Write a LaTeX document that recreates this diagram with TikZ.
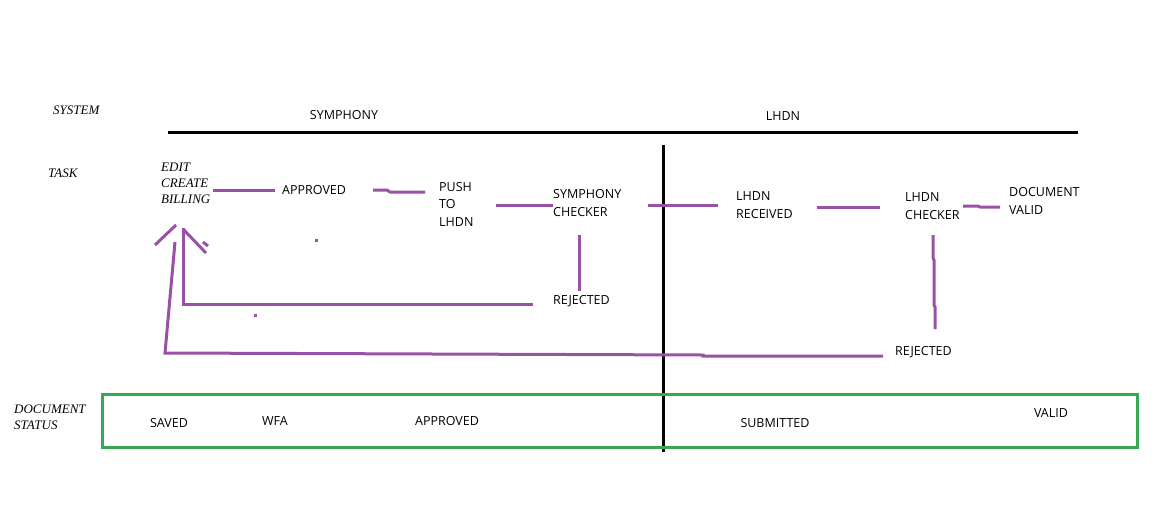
\documentclass[tikz,border=0pt]{standalone}
\usepackage{fontspec}
\setmainfont{Open Sans}
\newfontfamily\hand{Liberation Serif}
\definecolor{pur}{RGB}{152,82,163}
\definecolor{grn}{RGB}{52,168,83}
\begin{document}
\begin{tikzpicture}[x=1pt,y=-1pt,
 lbl/.style={font=\fontsize{12.5}{18}\selectfont, inner sep=0pt, align=left, anchor=west},
 ctr/.style={font=\fontsize{12.5}{18}\selectfont, inner sep=0pt},
 hw/.style={font=\hand\itshape\fontsize{13}{16}\selectfont, inner sep=0pt, align=left, anchor=west},
 pl/.style={draw=pur, line width=3pt},
 bl/.style={draw=black, line width=3pt},
 dot/.style={fill=pur, minimum size=3pt, inner sep=0pt}]
\useasboundingbox (0,0) rectangle (1167,512);
% labels
\node[hw] (sys) at (53,110) {SYSTEM};
\node[hw] (task) at (48,173) {TASK};
\node[hw] (dst) at (14,417) {DOCUMENT\\STATUS};
\node[ctr] (sym) at (344,115) {SYMPHONY};
\node[ctr] (lhdn) at (783,116) {LHDN};
% system lines
\coordinate (hl) at (168,132); \coordinate (hr) at (1078,132);
\draw[bl] (hl) -- (hr);
\coordinate (vt) at (663,145); \coordinate (vb) at (663,452);
\draw[bl] (vt) -- (vb);
% tasks
\node[hw] (edit) at (161,183) {EDIT\\CREATE\\BILLING};
\node[lbl] (appr) at (282,190) {APPROVED};
\node[lbl, font=\fontsize{12.5}{17.5}\selectfont] (push) at (439,204) {PUSH\\TO\\LHDN};
\node[lbl] (schk) at (553,203) {SYMPHONY\\CHECKER};
\node[lbl] (lrec) at (736,205) {LHDN\\RECEIVED};
\node[lbl] (lchk) at (905,206) {LHDN\\CHECKER};
\node[lbl] (dval) at (1009,201) {DOCUMENT\\VALID};
\node[lbl] (rej1) at (553,301) {REJECTED};
\node[lbl] (rej2) at (895,352) {REJECTED};
% connectors
\coordinate (c1a) at (213,190); \coordinate (c1b) at (275,190);
\draw[pl] (c1a) -- (c1b);
\coordinate (c2a) at (373,190); \coordinate (c2b) at (425,192);
\draw[pl] (c2a) -- (387,190) -- (390,192) -- (c2b);
\coordinate (c3a) at (496,205); \coordinate (c3b) at (553,205);
\draw[pl] (c3a) -- (c3b);
\coordinate (c4a) at (648,205); \coordinate (c4b) at (718,205);
\draw[pl] (c4a) -- (c4b);
\coordinate (c5a) at (817,207); \coordinate (c5b) at (880,207);
\draw[pl] (c5a) -- (c5b);
\coordinate (c6a) at (963,206); \coordinate (c6b) at (1000,207);
\draw[pl] (c6a) -- (978,206) -- (980,207) -- (c6b);
\coordinate (v1a) at (579,235); \coordinate (v1b) at (579,291);
\draw[pl] (v1a) -- (v1b);
\coordinate (v2a) at (933,235); \coordinate (v2b) at (935,329);
\draw[pl] (v2a) -- (933,258) -- (934,260) -- (934,305) -- (935,307) -- (v2b);
% return lines
\coordinate (r1a) at (533,304); \coordinate (r1b) at (183,228);
\draw[pl] (r1a) -- (183,304) -- (r1b);
\coordinate (r2a) at (883,356); \coordinate (r2b) at (175,242);
\draw[pl] (r2a) -- (703,356) -- (703,355) -- (165,353) -- (r2b);
% arrow head strokes
\coordinate (h1a) at (155,245); \coordinate (h1b) at (176,225);
\draw[pl] (h1a) -- (h1b);
\coordinate (h2a) at (183,229); \coordinate (h2b) at (206,253);
\draw[pl] (h2a) -- (h2b);
\coordinate (h3a) at (203,242); \coordinate (h3b) at (208,246);
\draw[pl] (h3a) -- (h3b);
\node[dot] (d1) at (316,240) {};
\node[dot] (d2) at (255,315) {};
% document status
\coordinate (g1) at (102,394); \coordinate (g2) at (1137,447);
\draw[draw=grn, line width=3pt] (g1) rectangle (g2);
\node[ctr] (s1) at (169,423) {SAVED};
\node[ctr] (s2) at (275,421) {WFA};
\node[ctr] (s3) at (447,421) {APPROVED};
\node[ctr] (s4) at (775,423) {SUBMITTED};
\node[ctr] (s5) at (1051,413) {VALID};
\end{tikzpicture}
\end{document}
